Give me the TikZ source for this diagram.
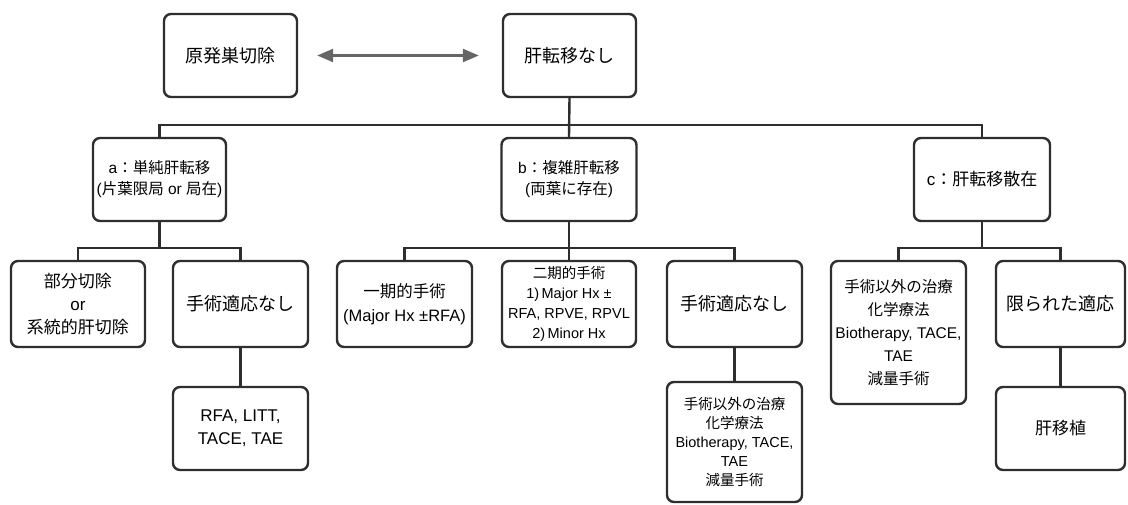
\documentclass[tikz,border=0pt]{standalone}
\usepackage{fontspec}
\setmainfont{Liberation Sans}
\newfontfamily\jpfont{Noto Sans CJK JP}
\newcommand{\J}[1]{{\jpfont #1}}
\usetikzlibrary{arrows.meta}
\begin{document}
\begin{tikzpicture}[x=1pt,y=-1pt,
  box/.style={draw=black!82,line width=2.4pt,rounded corners=7pt,align=center,inner sep=0pt,fill=white},
  wh/.style 2 args={minimum width=#1pt,minimum height=#2pt},
  conn/.style={draw=black!82,line width=2.4pt},
  dbl/.style={draw=black!60,line width=2.4pt,{Triangle[length=16pt,width=13pt]}-{Triangle[length=16pt,width=13pt]}},
  fs/.style 2 args={font=\fontsize{#1}{#2}\selectfont}
]
\fill[white] (0,0) rectangle (1128,505);
\useasboundingbox (0,0) rectangle (1128,505);

\coordinate (h1) at (0,125);
\coordinate (h2) at (0,248);

% top row
\node[box,wh={133}{83},fs={18}{22}] (gen) at (230.5,55.5) {\J{原発巣切除}};
\node[box,wh={133}{83},fs={18}{22}] (liv) at (569.5,55.5) {\J{肝転移なし}};

% level 2
\node[box,wh={133}{83},fs={15.5}{21}] (a) at (159.5,179.5) {a\J{：単純肝転移}\\(\J{片葉限局} or \J{局在})};
\node[box,wh={135}{83},fs={15.5}{21}] (b) at (569,179.5) {b\J{：複雑肝転移}\\(\J{両葉に存在})};
\node[box,wh={136}{83},fs={17}{21}] (c) at (982,179.5) {c\J{：肝転移散在}};

% level 3
\node[box,wh={134}{86},fs={17}{23}] (a1) at (78,304) {\J{部分切除}\\or\\\J{系統的肝切除}};
\node[box,wh={135}{86},fs={18}{22}] (a2) at (240.5,304) {\J{手術適応なし}};
\node[box,wh={135}{83},fs={17}{23}] (a3) at (240.5,428.5) {RFA, LITT,\\TACE, TAE};

\node[box,wh={135}{86},fs={16.5}{24}] (b1) at (404.5,304) {\J{一期的手術}\\(Major Hx ±RFA)};
\node[box,wh={134}{86},fs={14.5}{20}] (b2) at (569,304) {\J{二期的手術}\\1)\,Major Hx ±\\RFA, RPVE, RPVL\\2)\,Minor Hx};
\node[box,wh={135}{86},fs={18}{22}] (b3) at (734.5,304) {\J{手術適応なし}};
\node[box,wh={135}{120},fs={14.5}{19}] (b4) at (734.5,442) {\J{手術以外の治療}\\\J{化学療法}\\Biotherapy, TACE,\\TAE\\\J{減量手術}};

\node[box,wh={135}{143},fs={15.5}{23}] (c1) at (898.5,332.5) {\J{手術以外の治療}\\\J{化学療法}\\Biotherapy, TACE,\\TAE\\\J{減量手術}};
\node[box,wh={129}{86},fs={18}{22}] (c2) at (1060.5,304) {\J{限られた適応}};
\node[box,wh={129}{83},fs={17}{22}] (c3) at (1060.5,428.5) {\J{肝移植}};

% connectors
\draw[dbl,shorten <=19pt,shorten >=23pt] (gen) -- (liv);
\draw[conn] (liv.south) -- (b.north);
\draw[conn] (a.north) |- (c.north |- h1) -- (c.north);

\draw[conn] (a.south) -- (a.south |- h2);
\draw[conn] (a1.north) |- (a2.north |- h2) -- (a2.north);
\draw[conn] (a2.south) -- (a3.north);

\draw[conn] (b.south) -- (b2.north);
\draw[conn] (b1.north) |- (b3.north |- h2) -- (b3.north);
\draw[conn] (b3.south) -- (b4.north);

\draw[conn] (c.south) -- (c.south |- h2);
\draw[conn] (c1.north) |- (c2.north |- h2) -- (c2.north);
\draw[conn] (c2.south) -- (c3.north);
\end{tikzpicture}
\end{document}
